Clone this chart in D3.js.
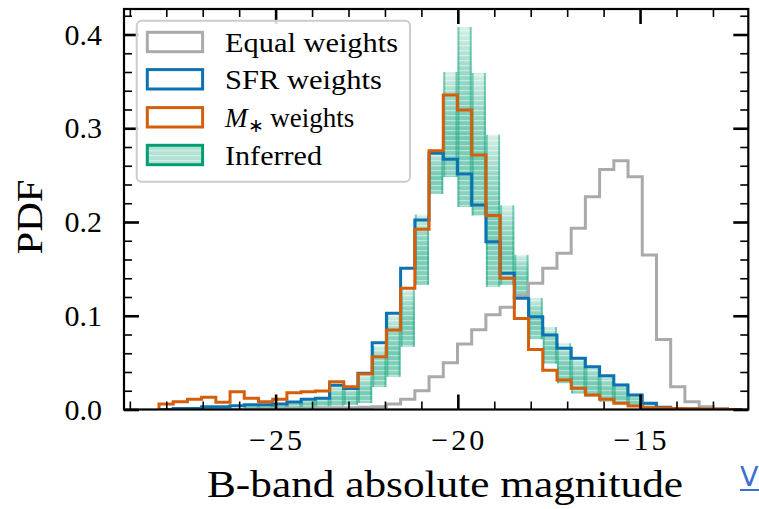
<!DOCTYPE html>
<html><head><meta charset="utf-8">
<script src="https://cdn.jsdelivr.net/npm/d3@7"></script>
<style>
html,body{margin:0;padding:0;background:#fff;}
svg{display:block;}
text{font-family:"Liberation Serif","Times New Roman",serif;}
</style></head>
<body>
<svg id="chart" width="759" height="509"></svg>
<script>
// ---------- data ----------
const binEdges = [-28.20,-27.81,-27.42,-27.03,-26.64,-26.25,-25.86,-25.47,-25.08,-24.69,-24.30,-23.91,-23.52,-23.13,-22.74,-22.35,-21.96,-21.57,-21.18,-20.79,-20.40,-20.01,-19.62,-19.23,-18.84,-18.45,-18.06,-17.67,-17.28,-16.89,-16.50,-16.11,-15.72,-15.33,-14.94,-14.55,-14.16,-13.77,-13.38,-12.99,-12.60,-12.21];

const equalWeights = [0,0,0,0,0,0,0.0003,0.0005,0.0008,0.001,0.0012,0.0015,0.002,0.002,0.0025,0.003,0.006,0.011,0.020,0.035,0.050,0.070,0.085,0.101,0.109,0.122,0.1346,0.1506,0.1666,0.1933,0.227,0.256,0.2654,0.2484,0.1648,0.0748,0.0243,0.0083,0.003,0.001,0];

const sfrWeights = [0,0.001,0.001,0.003,0.003,0.004,0.005,0.005,0.006,0.008,0.011,0.012,0.026,0.0225,0.0386,0.0713,0.1026,0.1506,0.2021,0.2733,0.2669,0.2512,0.2181,0.179,0.1453,0.1186,0.099,0.0795,0.0653,0.0546,0.0457,0.0361,0.0261,0.0155,0.0066,0.0023,0.001,0.0005,0,0,0];

const massWeights = [0.0059,0.0083,0.0109,0.013,0.0077,0.019,0.012,0.0083,0.0109,0.018,0.019,0.0197,0.0297,0.0243,0.0379,0.0563,0.0848,0.1293,0.1922,0.276,0.3355,0.3195,0.2715,0.207,0.14,0.097,0.064,0.042,0.0315,0.0226,0.0155,0.0109,0.0066,0.0037,0.002,0.0015,0.001,0.0008,0.0005,0.0003,0];

// inferred: per-bin spread of the posterior histogram draws (low / high)
const inferredLow  = [null,null,null,null,null,null,0.001,0.001,0.001,0.002,0.002,0.003,0.004,0.005,0.007,0.024,0.035,0.067,0.133,0.230,0.248,0.216,0.207,0.131,0.133,0.120,0.075,0.049,0.028,0.017,0.0137,0.0083,0.0059,0.003,0.002,0.001,null,null,null,null,null];
const inferredHigh = [null,null,null,null,null,null,0.005,0.005,0.006,0.008,0.010,0.013,0.025,0.023,0.036,0.068,0.101,0.128,0.208,0.276,0.360,0.408,0.359,0.293,0.218,0.165,0.119,0.088,0.0706,0.056,0.047,0.0368,0.028,0.017,0.007,0.003,null,null,null,null,null];

const xMajorTicks = [-25,-20,-15];
const xMinorTicks = [-29,-28,-27,-26,-24,-23,-22,-21,-19,-18,-17,-16,-14,-13];
const yMajorTicks = [0.0,0.1,0.2,0.3,0.4];
const yMinorTicks = [0.02,0.04,0.06,0.08,0.12,0.14,0.16,0.18,0.22,0.24,0.26,0.28,0.32,0.34,0.36,0.38,0.42];

const legendLabels = ["Equal weights","SFR weights","M weights","Inferred"];
const colors = {equal:"#aaaaaa", sfr:"#0c72b2", mass:"#d45e0a", inf:"#029e73"};

// ---------- layout ----------
const L = 124, R = 748.3, T = 9, B = 409.5;
const svg = d3.select("#chart");
const x = d3.scaleLinear().domain([-29.16, -12.03]).range([L, R]);
const y = d3.scaleLinear().domain([0, 0.4272]).range([B, T]);

const defs = svg.append("defs");
defs.append("clipPath").attr("id","clip").append("rect")
  .attr("x",L).attr("y",T).attr("width",R-L).attr("height",B-T);
const grad = defs.append("linearGradient").attr("id","gGreen")
  .attr("x1",0).attr("y1",0).attr("x2",0).attr("y2",1);
[[0,0.16],[0.25,0.40],[0.6,0.55],[1,0.45]].forEach(([o,a])=>
  grad.append("stop").attr("offset",o).attr("stop-color",colors.inf).attr("stop-opacity",a));
const pat = defs.append("pattern").attr("id","stripes").attr("patternUnits","userSpaceOnUse")
  .attr("width",8).attr("height",5);
pat.append("rect").attr("x",0).attr("y",0).attr("width",8).attr("height",1.2).attr("fill","#fff").attr("opacity",0.45);

const plot = svg.append("g").attr("clip-path","url(#clip)");

// inferred band
const bins = d3.range(binEdges.length-1).map(i=>({i, x0:binEdges[i], x1:binEdges[i+1], lo:inferredLow[i], hi:inferredHigh[i]}))
  .filter(d=>d.lo!==null);
const gInf = plot.append("g");
gInf.selectAll("rect.band").data(bins).join("rect").attr("class","band")
  .attr("x",d=>x(d.x0)).attr("width",d=>x(d.x1)-x(d.x0))
  .attr("y",d=>y(d.hi)).attr("height",d=>y(d.lo)-y(d.hi))
  .attr("fill","url(#gGreen)");
gInf.selectAll("rect.str").data(bins).join("rect").attr("class","str")
  .attr("x",d=>x(d.x0)).attr("width",d=>x(d.x1)-x(d.x0))
  .attr("y",d=>y(d.hi)).attr("height",d=>y(d.lo)-y(d.hi))
  .attr("fill","url(#stripes)");
gInf.selectAll("line.l").data(bins).join("line").attr("class","l")
  .attr("x1",d=>x(d.x0)+1).attr("x2",d=>x(d.x0)+1)
  .attr("y1",d=>y(d.hi)).attr("y2",d=>y(d.lo))
  .attr("stroke",colors.inf).attr("stroke-opacity",0.45).attr("stroke-width",2);
gInf.selectAll("line.r").data(bins).join("line").attr("class","r")
  .attr("x1",d=>x(d.x1)-1).attr("x2",d=>x(d.x1)-1)
  .attr("y1",d=>y(d.hi)).attr("y2",d=>y(d.lo))
  .attr("stroke",colors.inf).attr("stroke-opacity",0.45).attr("stroke-width",2);

// step histograms
function stepPoints(vals){
  const n = vals.length;
  const pts = [[binEdges[0],0]];
  for(let i=0;i<n;i++) pts.push([binEdges[i], vals[i]]);
  pts.push([binEdges[n], vals[n-1]]);
  pts.push([binEdges[n], 0]);
  return pts;
}
const stepLine = d3.line().x(d=>x(d[0])).y(d=>y(d[1])).curve(d3.curveStepAfter);
[[equalWeights,colors.equal],[sfrWeights,colors.sfr],[massWeights,colors.mass]].forEach(([v,c])=>{
  plot.append("path").attr("d",stepLine(stepPoints(v)))
    .attr("fill","none").attr("stroke",c).attr("stroke-width",3).attr("stroke-linejoin","miter");
});

// ---------- axes ----------
function styleAxis(g, w){
  g.select(".domain").remove();
  g.selectAll(".tick line").attr("stroke","#000").attr("stroke-width",w);
}
const majLen = 15, minLen = 8;
svg.append("g").attr("transform",`translate(0,${B})`)
  .call(d3.axisBottom(x).tickValues(xMajorTicks).tickSize(-majLen).tickFormat(""))
  .call(g=>styleAxis(g,2.6));
svg.append("g").attr("transform",`translate(0,${B})`)
  .call(d3.axisBottom(x).tickValues(xMinorTicks).tickSize(-minLen).tickFormat(""))
  .call(g=>styleAxis(g,1.6));
svg.append("g").attr("transform",`translate(0,${T})`)
  .call(d3.axisTop(x).tickValues(xMajorTicks).tickSize(-majLen).tickFormat(""))
  .call(g=>styleAxis(g,2.6));
svg.append("g").attr("transform",`translate(0,${T})`)
  .call(d3.axisTop(x).tickValues(xMinorTicks).tickSize(-minLen).tickFormat(""))
  .call(g=>styleAxis(g,1.6));
svg.append("g").attr("transform",`translate(${L},0)`)
  .call(d3.axisLeft(y).tickValues(yMajorTicks).tickSize(-majLen).tickFormat(""))
  .call(g=>styleAxis(g,2.6));
svg.append("g").attr("transform",`translate(${L},0)`)
  .call(d3.axisLeft(y).tickValues(yMinorTicks).tickSize(-minLen).tickFormat(""))
  .call(g=>styleAxis(g,1.6));
svg.append("g").attr("transform",`translate(${R},0)`)
  .call(d3.axisRight(y).tickValues(yMajorTicks).tickSize(-majLen).tickFormat(""))
  .call(g=>styleAxis(g,2.6));
svg.append("g").attr("transform",`translate(${R},0)`)
  .call(d3.axisRight(y).tickValues(yMinorTicks).tickSize(-minLen).tickFormat(""))
  .call(g=>styleAxis(g,1.6));

// frame (spines)
svg.append("rect").attr("x",L).attr("y",T).attr("width",R-L).attr("height",B-T)
  .attr("fill","none").attr("stroke","#000").attr("stroke-width",2.2);

// tick labels
svg.append("g").selectAll("text").data(xMajorTicks).join("text")
  .attr("x",d=>x(d)).attr("y",450).attr("text-anchor","middle")
  .attr("font-size",30).attr("fill","#000")
  .attr("textLength",53).attr("lengthAdjust","spacing")
  .text(d=>"\u2212"+Math.abs(d));
svg.append("g").selectAll("text").data(yMajorTicks).join("text")
  .attr("x",102).attr("y",d=>y(d)+10).attr("text-anchor","end")
  .attr("font-size",30).attr("fill","#000")
  .text(d=>d3.format(".1f")(d));

// axis labels
svg.append("text").attr("x",445).attr("y",497).attr("text-anchor","middle")
  .attr("font-size",38).attr("fill","#000")
  .attr("textLength",476).attr("lengthAdjust","spacingAndGlyphs")
  .text("B-band absolute magnitude");
svg.append("text").attr("transform","translate(41.5,217) rotate(-90)").attr("text-anchor","middle")
  .attr("font-size",36).attr("fill","#000")
  .attr("textLength",75).attr("lengthAdjust","spacingAndGlyphs")
  .text("PDF");

// ---------- legend ----------
const lg = svg.append("g");
lg.append("rect").attr("x",136.7).attr("y",20.7).attr("width",273.3).attr("height",161)
  .attr("rx",5).attr("fill","#fff").attr("fill-opacity",0.85)
  .attr("stroke","#cccccc").attr("stroke-width",2);
const rowY = [42,79.3,117.3,155];
const handleCol = [colors.equal,colors.sfr,colors.mass,colors.inf];
const textLen = [173,157,143,97];
rowY.forEach((cy,k)=>{
  if(k===3){
    lg.append("rect").attr("x",147.3).attr("y",cy-9.7).attr("width",55.3).attr("height",19.4)
      .attr("fill",colors.inf).attr("fill-opacity",0.3);
    lg.append("rect").attr("x",147.3).attr("y",cy-9.7).attr("width",55.3).attr("height",19.4)
      .attr("fill","url(#stripes)");
  }
  lg.append("rect").attr("x",147.3).attr("y",cy-9.7).attr("width",55.3).attr("height",19.4)
    .attr("fill","none").attr("stroke",handleCol[k]).attr("stroke-width",3);
  const t = lg.append("text").attr("x",225).attr("y",cy+9.6).attr("font-size",27).attr("fill","#000");
  if(k===2){
    t.append("tspan").attr("font-style","italic").text("M");
    t.append("tspan").attr("font-size",19).attr("dy",5).text("\u2217");
    t.append("tspan").attr("dy",-5).text(" weights");
  } else {
    t.attr("textLength",textLen[k]).attr("lengthAdjust","spacingAndGlyphs").text(legendLabels[k]);
  }
});

// truncated link fragment at the bottom right of the reference
svg.append("text").attr("x",740).attr("y",486).attr("font-size",27)
  .attr("fill","#3c6fd6").style("font-family","DejaVu Sans, sans-serif").text("V");
svg.append("line").attr("x1",740).attr("x2",759).attr("y1",490).attr("y2",490)
  .attr("stroke","#3c6fd6").attr("stroke-width",2);
</script>
</body></html>
